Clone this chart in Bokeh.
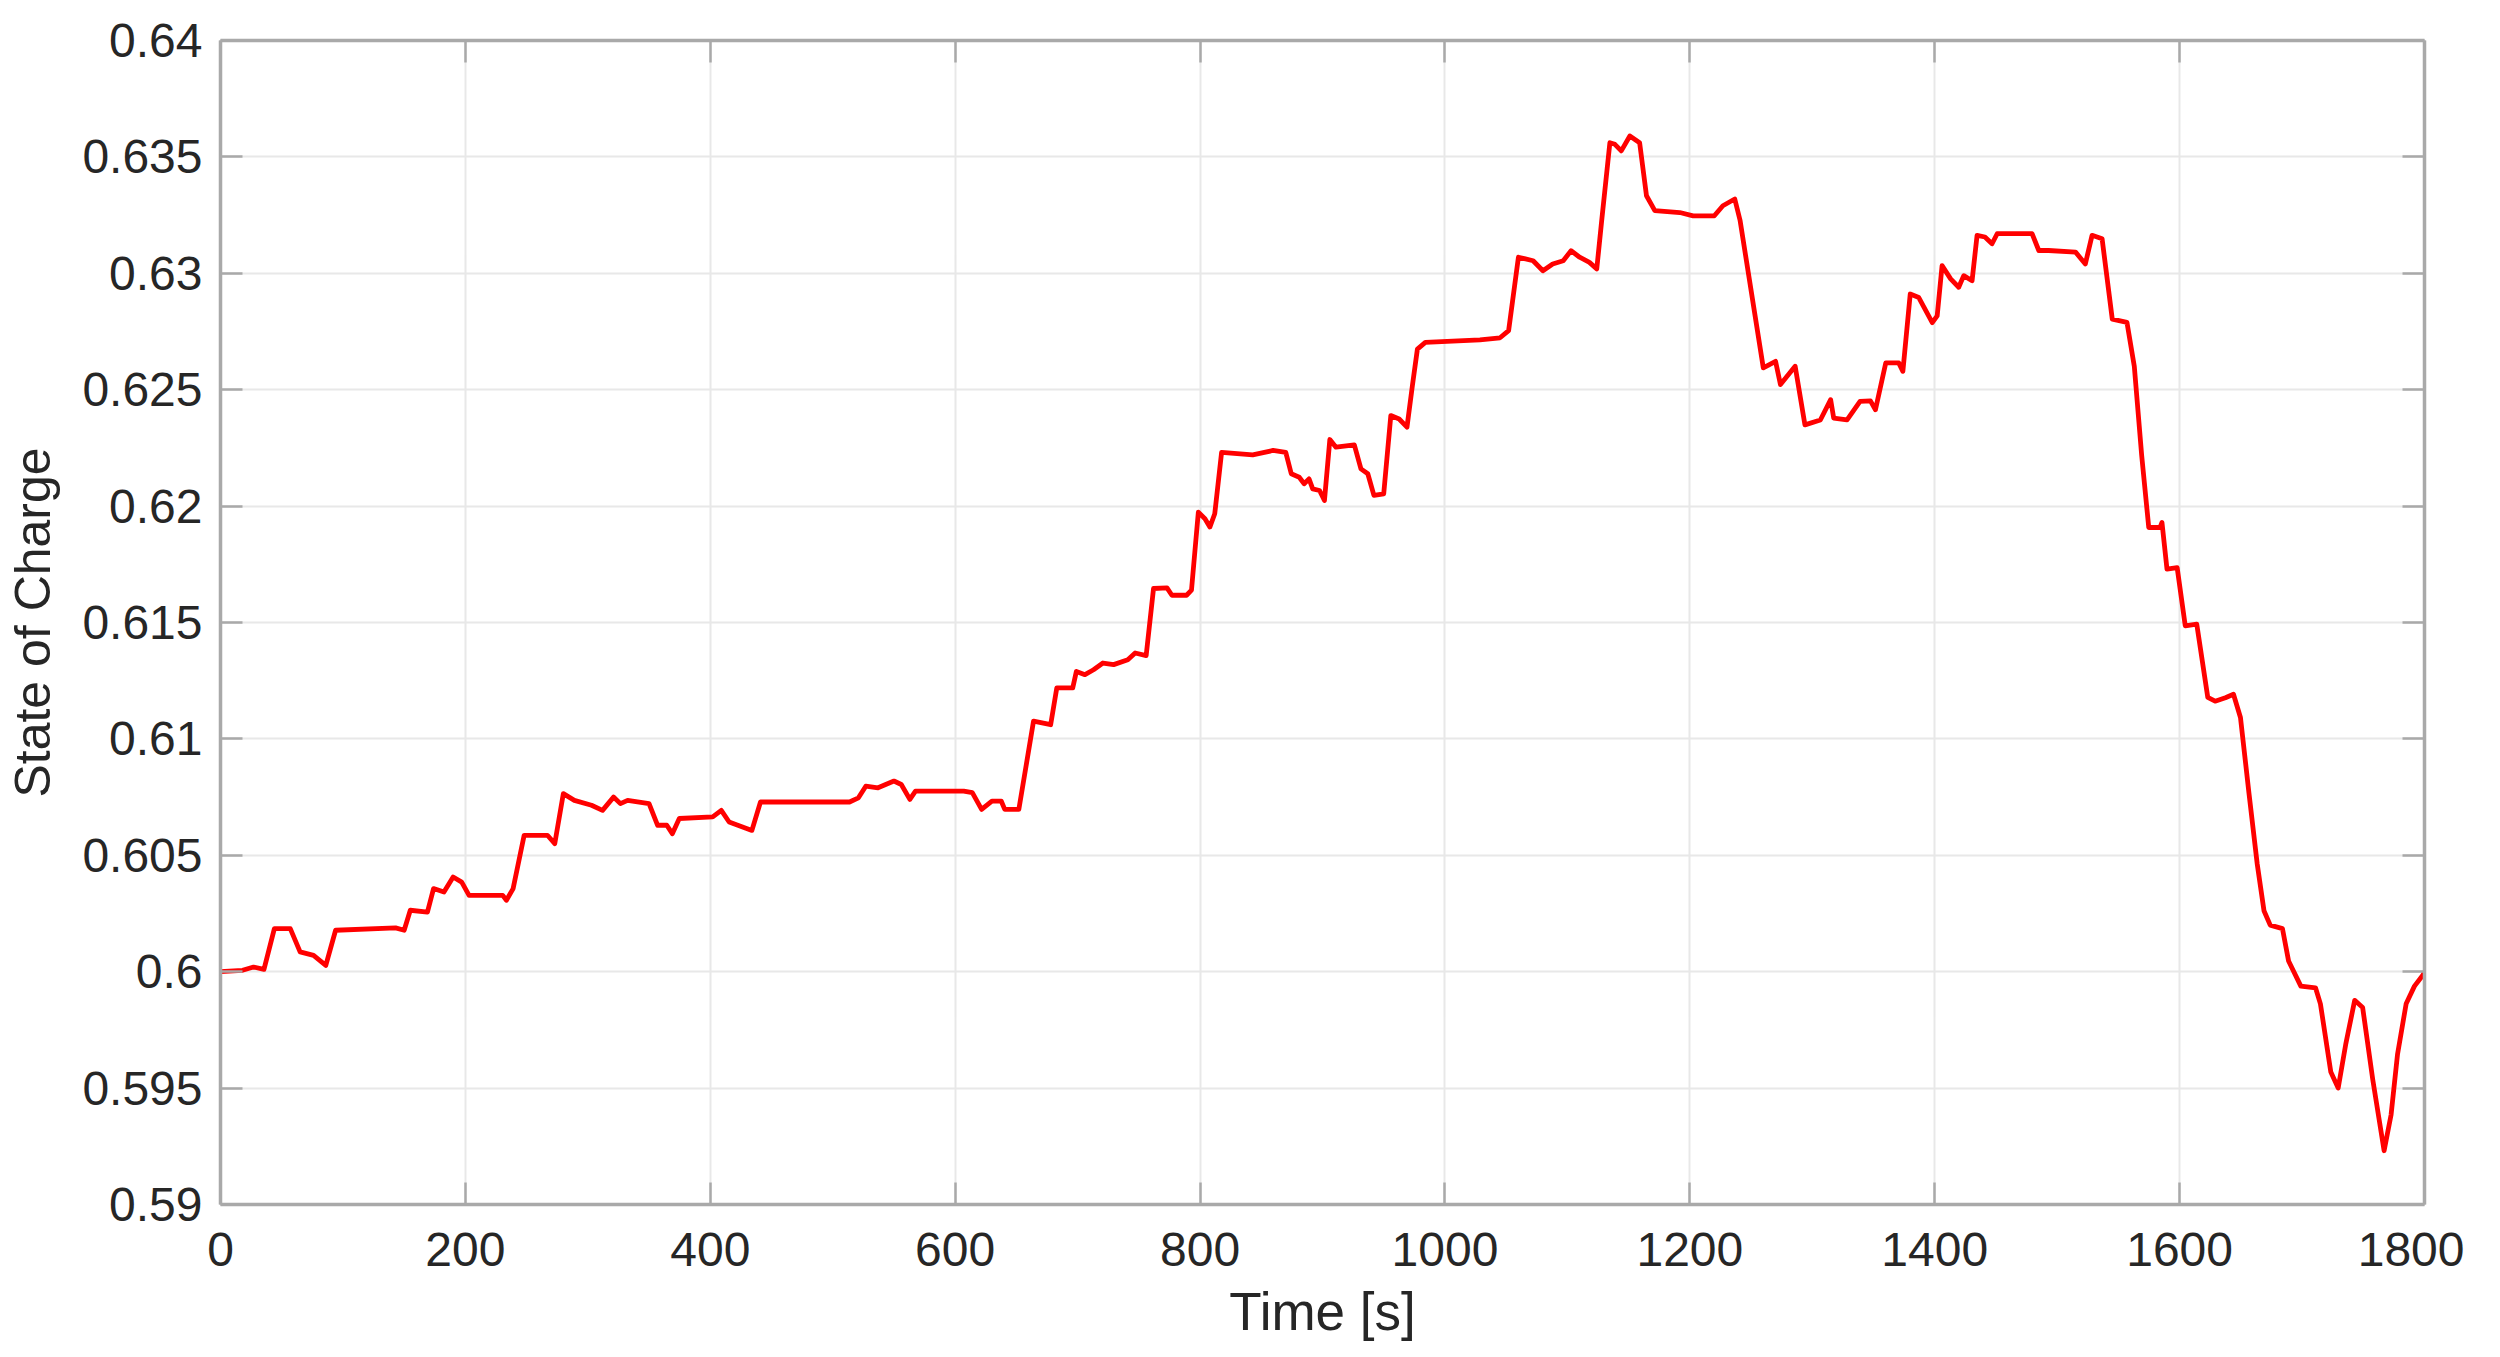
from bokeh.plotting import figure
from bokeh.models import LinearAxis, FixedTicker, CustomJSTickFormatter, Range1d
from bokeh.embed import file_html
from bokeh.resources import INLINE

# ---- data ----
time_s = [0, 18, 27, 35.5, 44, 57, 65, 76, 86, 94, 143, 150, 155, 169, 174, 182.5, 190, 197,
          203, 230.5, 233.5, 239, 248, 267, 273, 280, 289, 303, 312, 321, 326.6, 332.5, 350,
          357, 364.5, 369, 374.7, 402, 409, 415.4, 434, 441, 513.7, 521, 527, 537, 550, 556,
          563, 567.6, 607, 614, 621.6, 630, 637.6, 640.5, 652, 664, 678, 683, 696, 699, 706,
          713, 720.7, 729.4, 741, 747, 756, 762, 773, 777, 789, 793, 798.6, 804, 808, 812,
          817.6, 843, 859.6, 870, 874.5, 881, 885, 889, 892, 897.6, 901.6, 906, 911, 926,
          931.4, 937, 942, 950, 955.8, 962.6, 969, 973.4, 977.5, 984, 1028.6, 1045, 1052,
          1060, 1072, 1080, 1088, 1096.6, 1103, 1110, 1118, 1124, 1128, 1134.7, 1138.8, 1144,
          1151, 1159, 1164.6, 1171.4, 1191.8, 1202.7, 1220, 1227, 1236.7, 1241, 1260, 1270,
          1274, 1286, 1294, 1306.6, 1315, 1317.5, 1328.4, 1339, 1347.5, 1351.6, 1360, 1370.6,
          1374, 1380, 1387, 1398, 1402, 1406, 1413, 1419.6, 1423.7, 1430.5, 1434.6, 1441,
          1446.8, 1451, 1479.5, 1485, 1493, 1515, 1523, 1528.5, 1536.7, 1545, 1557, 1563,
          1569, 1574.8, 1584, 1585.6, 1589.7, 1598, 1604.6, 1614, 1623, 1629, 1637.4, 1644,
          1649.7, 1656.6, 1663.4, 1668.9, 1674, 1684, 1689, 1699, 1711, 1715, 1723.5, 1729.5,
          1735.8, 1743, 1749.5, 1757.7, 1767, 1772.7, 1778, 1785, 1791.8, 1798.6, 1800]

soc = [0.6000, 0.60006, 0.6002, 0.6001, 0.60185, 0.60185, 0.60085, 0.6007, 0.60027, 0.60178,
       0.60188, 0.60178, 0.60264, 0.60256, 0.60357, 0.60342, 0.60407, 0.60385, 0.60328,
       0.60328, 0.60307, 0.60357, 0.60586, 0.60586, 0.6055, 0.60765, 0.60736, 0.60715,
       0.60693, 0.6075, 0.60722, 0.60736, 0.60722, 0.60629, 0.60629, 0.60593, 0.60658,
       0.60665, 0.60693, 0.60643, 0.60607, 0.60729, 0.60729, 0.60747, 0.60797, 0.6079,
       0.60819, 0.60804, 0.6074, 0.60776, 0.60776, 0.60769, 0.60697, 0.60733, 0.60733,
       0.60697, 0.60697, 0.61076, 0.61061, 0.61219, 0.61219, 0.6129, 0.61276, 0.61297,
       0.61326, 0.61319, 0.6134, 0.61369, 0.61358, 0.61646, 0.61649, 0.61617, 0.61617,
       0.61639, 0.61974, 0.61946, 0.6191, 0.61967, 0.62231, 0.6222, 0.62239, 0.62231,
       0.62139, 0.62124, 0.62096, 0.62117, 0.62074, 0.62067, 0.62024, 0.62286, 0.62253,
       0.62263, 0.6216, 0.62139, 0.62046, 0.62053, 0.62389, 0.62374, 0.62339, 0.62517,
       0.62674, 0.62703, 0.62714, 0.62723, 0.62754, 0.63069, 0.63054, 0.63011, 0.6304,
       0.63054, 0.63097, 0.63069, 0.63047, 0.63019, 0.63226, 0.63561, 0.63554, 0.63526,
       0.6359, 0.63561, 0.63333, 0.63269, 0.63261, 0.63247, 0.63247, 0.6329, 0.63319,
       0.63228, 0.62594, 0.62622, 0.62522, 0.62601, 0.62349, 0.6237, 0.62457, 0.62378,
       0.6237, 0.6245, 0.62452, 0.62414, 0.62615, 0.62615, 0.62579, 0.62911, 0.62896,
       0.62788, 0.62817, 0.63033, 0.62976, 0.6294, 0.6299, 0.62968, 0.63163, 0.63156,
       0.63127, 0.6317, 0.6317, 0.63098, 0.63098, 0.63091, 0.6304, 0.63163, 0.63148,
       0.62803, 0.62789, 0.626, 0.62219, 0.61908, 0.61908, 0.6193, 0.61729, 0.61736,
       0.61486, 0.61493, 0.61178, 0.61162, 0.61177, 0.61192, 0.61092, 0.60769, 0.60462,
       0.60262, 0.602, 0.60185, 0.60046, 0.59938, 0.59931, 0.59862, 0.59569, 0.595, 0.59692,
       0.59877, 0.59846, 0.59538, 0.59231, 0.59385, 0.59646, 0.59862, 0.59938, 0.59985, 0.6]

x_ticks = [0, 200, 400, 600, 800, 1000, 1200, 1400, 1600, 1800]
y_ticks = [0.59, 0.595, 0.60, 0.605, 0.61, 0.615, 0.62, 0.625, 0.63, 0.635, 0.64]

x_label = "Time [s]"
y_label = "State of Charge"

# ---- style ----
FONT = "Liberation Sans"
TEXT = "#262626"
AXIS = "#a9a9a9"
GRID = "#e8e8e8"

p = figure(frame_width=2204, frame_height=1164,
           min_border_left=220, min_border_top=40, min_border_right=40, min_border_bottom=100,
           x_range=Range1d(0, 1800), y_range=Range1d(0.59, 0.64),
           output_backend="svg", toolbar_location=None, x_axis_label=x_label,
           y_axis_label=y_label)

p.line(time_s, soc, line_color="#ff0000", line_width=4.8, line_join="round")

fmt = CustomJSTickFormatter(code="""
    var s = tick.toFixed(3);
    s = s.replace(/0+$/, '').replace(/\\.$/, '');
    return s;
""")

p.xaxis.ticker = FixedTicker(ticks=x_ticks)
p.yaxis.ticker = FixedTicker(ticks=y_ticks)
p.yaxis.formatter = fmt

for ax in [p.xaxis[0], p.yaxis[0]]:
    ax.major_label_text_font = FONT
    ax.major_label_text_font_size = "48px"
    ax.major_label_text_color = TEXT
    ax.axis_label_text_font = FONT
    ax.axis_label_text_font_style = "normal"
    ax.axis_label_text_color = TEXT
    ax.axis_line_color = AXIS
    ax.axis_line_width = 3.5
    ax.major_tick_line_color = AXIS
    ax.major_tick_line_width = 2.5
    ax.major_tick_in = 22
    ax.major_tick_out = 0
    ax.minor_tick_line_color = None
    ax.major_label_standoff = 18

p.xaxis.major_label_standoff = 28
p.xaxis.axis_label_text_font_size = "53px"
p.yaxis.axis_label_text_font_size = "50px"
p.xaxis.axis_label_standoff = 13
p.yaxis.axis_label_standoff = 18

# mirrored top / right axes (ticks only)
top = LinearAxis(ticker=FixedTicker(ticks=x_ticks))
right = LinearAxis(ticker=FixedTicker(ticks=y_ticks))
for ax in [top, right]:
    ax.major_label_text_font_size = "0px"
    ax.major_label_text_color = None
    ax.major_label_standoff = 0
    ax.axis_line_color = AXIS
    ax.axis_line_width = 3.5
    ax.major_tick_line_color = AXIS
    ax.major_tick_line_width = 2.5
    ax.major_tick_in = 22
    ax.major_tick_out = 0
    ax.minor_tick_line_color = None
p.add_layout(top, "above")
p.add_layout(right, "right")

p.xgrid.ticker = FixedTicker(ticks=x_ticks)
p.ygrid.ticker = FixedTicker(ticks=y_ticks)
p.grid.grid_line_color = GRID
p.grid.grid_line_width = 2
p.outline_line_color = None
p.background_fill_color = "white"
p.border_fill_color = "white"

open("out.html", "w").write(file_html(p, INLINE))
